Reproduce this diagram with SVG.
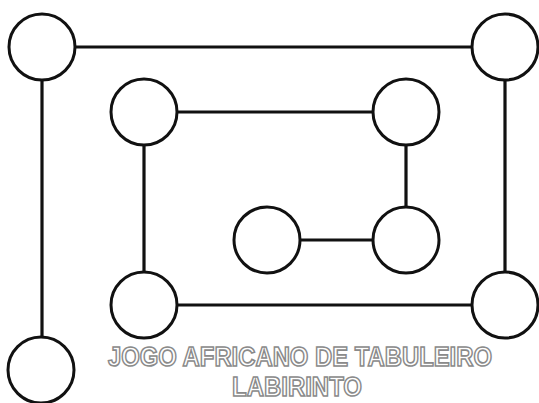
<svg xmlns="http://www.w3.org/2000/svg" width="539" height="403" viewBox="0 0 539 403">
<style>
.node{fill:#fff;stroke:#111;stroke-width:3}
.edge{stroke:#111;stroke-width:3.2;fill:none}
.title{font-family:"Liberation Sans","DejaVu Sans",sans-serif;font-weight:bold;fill:#fff;stroke:#8a8a8a;stroke-width:1.6;text-anchor:middle}
</style>
<rect width="539" height="403" fill="#fff"/>
<g id="connectors">
<line class="edge" x1="75" y1="47" x2="472" y2="47"/>
<line class="edge" x1="42" y1="80" x2="42" y2="337"/>
<line class="edge" x1="505" y1="80" x2="505" y2="272"/>
<line class="edge" x1="177" y1="112" x2="373" y2="112"/>
<line class="edge" x1="144" y1="145" x2="144" y2="272"/>
<line class="edge" x1="406" y1="145" x2="406" y2="207"/>
<line class="edge" x1="300" y1="240" x2="373" y2="240"/>
<line class="edge" x1="177" y1="305" x2="472" y2="305"/>
</g>
<g id="n-outer-tl"><circle class="node" cx="42" cy="47" r="33"/></g>
<g id="n-outer-tr"><circle class="node" cx="505" cy="47" r="33"/></g>
<g id="n-inner-tl"><circle class="node" cx="144" cy="112" r="33"/></g>
<g id="n-inner-tr"><circle class="node" cx="406" cy="112" r="33"/></g>
<g id="n-center-l"><circle class="node" cx="267" cy="240" r="33"/></g>
<g id="n-center-r"><circle class="node" cx="406" cy="240" r="33"/></g>
<g id="n-inner-bl"><circle class="node" cx="144" cy="305" r="33"/></g>
<g id="n-outer-br"><circle class="node" cx="505" cy="305" r="33"/></g>
<g id="n-outer-bl"><circle class="node" cx="41" cy="370" r="33"/></g>
<g id="title">
<text class="title" x="300" y="366" font-size="27" textLength="384" lengthAdjust="spacingAndGlyphs">JOGO AFRICANO DE TABULEIRO</text>
<text class="title" x="297" y="396" font-size="27" textLength="130" lengthAdjust="spacingAndGlyphs">LABIRINTO</text>
</g>
</svg>
